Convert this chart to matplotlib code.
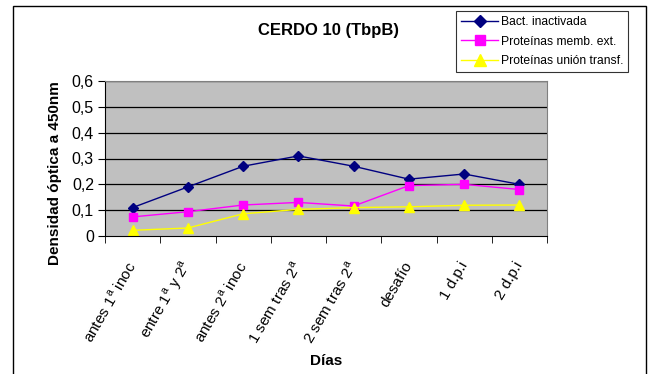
import matplotlib
matplotlib.use("Agg")
import matplotlib.pyplot as plt
from matplotlib.patches import Rectangle
import numpy as np

plt.rcParams['font.family'] = ['Liberation Sans', 'DejaVu Sans']
plt.rcParams['mathtext.fontset'] = 'custom'
plt.rcParams['mathtext.rm'] = 'Liberation Sans'

categorias = ["antes 1$^{\\mathrm{a}}$ inoc", "entre 1$^{\\mathrm{a}}$ y 2$^{\\mathrm{a}}$",
              "antes 2$^{\\mathrm{a}}$ inoc", "1 sem tras 2$^{\\mathrm{a}}$",
              "2 sem tras 2$^{\\mathrm{a}}$", "desafío", "1 d.p.i", "2 d.p.i"]
bact_inactivada = [0.11, 0.19, 0.27, 0.31, 0.27, 0.22, 0.24, 0.20]
prot_memb_ext = [0.074, 0.094, 0.12, 0.13, 0.116, 0.195, 0.20, 0.18]
prot_union_transf = [0.022, 0.031, 0.086, 0.103, 0.11, 0.113, 0.119, 0.12]
nombres = ["Bact. inactivada", "Proteínas memb. ext.", "Proteínas unión transf."]

W, H = 655, 374
fig = plt.figure(figsize=(W / 100, H / 100), dpi=100)
fig.patch.set_facecolor("white")

# outer chart frame (bottom edge runs past the image)
fig.add_artist(Rectangle((12.7 / W, -0.05), (646 - 12.7) / W, 1.05 - 6.3 / H,
                         transform=fig.transFigure, fill=False,
                         edgecolor="black", linewidth=1.0))

left, right, top, bottom = 105, 547, 81, 236
ax = fig.add_axes([left / W, 1 - bottom / H, (right - left) / W, (bottom - top) / H])
ax.set_facecolor("#C0C0C0")

x = np.arange(len(categorias))
ax.plot(x, bact_inactivada, color="#000080", marker="D", markersize=5, linewidth=1.0,
        label=nombres[0])
ax.plot(x, prot_memb_ext, color="#FF00FF", marker="s", markersize=6, linewidth=1.0,
        label=nombres[1])
ax.plot(x, prot_union_transf, color="#FFFF00", marker="^", markersize=7, linewidth=1.0,
        label=nombres[2])

ax.set_xlim(-0.5, len(categorias) - 0.5)
ax.set_ylim(0, 0.6)
yt = np.round(np.arange(0, 0.61, 0.1), 1)
ax.set_yticks(yt)
ax.set_yticklabels(["0" if v == 0 else f"{v:.1f}".replace(".", ",") for v in yt],
                   fontsize=11.5)
for v in yt[1:]:
    ax.axhline(v, color="black", linewidth=0.9, zorder=1)

ax.set_xticks(x)
ax.set_xticklabels(categorias, rotation=60, ha="right", va="center",
                   rotation_mode="anchor", fontsize=11)
ax.tick_params(axis="x", length=0, pad=19)
ax.set_xticks(np.arange(-0.5, len(categorias), 1), minor=True)
ax.tick_params(axis="x", which="minor", length=5, direction="out", color="black")
ax.tick_params(axis="y", length=5, direction="out", color="black", pad=3)

for s in ["top", "right"]:
    ax.spines[s].set_color("#808080")
ax.spines["left"].set_color("black")
ax.spines["bottom"].set_color("black")

fig.text(55.5 / W, 1 - 173.5 / H, "Densidad óptica a 450nm", rotation=90,
         ha="center", va="center", fontsize=11, fontweight="bold")
fig.text(326 / W, 1 - 361 / H, "Días", ha="center", va="center",
         fontsize=11, fontweight="bold")
fig.text(329 / W, 1 - 30 / H, "CERDO 10 (TbpB)", ha="center", va="center",
         fontsize=12, fontweight="bold")

leg = fig.legend(loc="upper left", bbox_to_anchor=(456 / W, 1 - 11.3 / H),
                 fontsize=8.7, frameon=True, fancybox=False, edgecolor="black",
                 borderpad=0.4, labelspacing=0.62, handlelength=3.1,
                 handletextpad=0.2, borderaxespad=0, markerscale=1.15)
leg.get_frame().set_linewidth(0.8)

fig.savefig("out.png", dpi=100, facecolor="white")
